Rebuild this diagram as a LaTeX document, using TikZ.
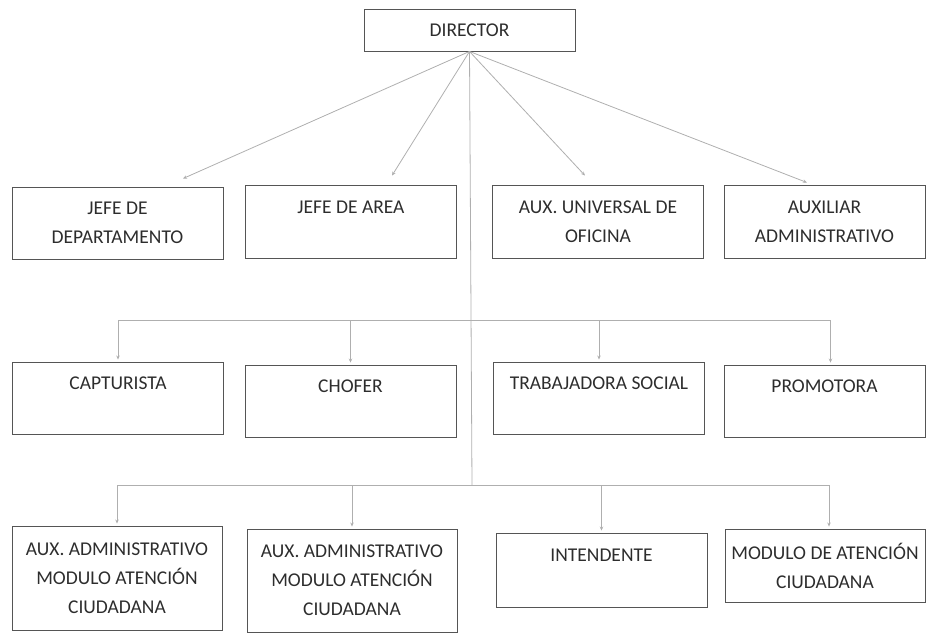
\documentclass[tikz,border=0pt]{standalone}
\usepackage{fontspec}
\setmainfont{Carlito}
\usetikzlibrary{arrows.meta}

\definecolor{boxline}{RGB}{85,85,85}
\definecolor{connline}{RGB}{175,175,175}
\definecolor{boxtext}{RGB}{45,45,45}

\tikzset{
    box/.style={draw=boxline, line width=0.9pt, rectangle, align=center,
        text=boxtext, font=\fontsize{19.5}{29}\selectfont, inner sep=2pt,
        minimum width=211pt, minimum height=72pt},
    conn/.style={draw=connline, line width=0.8pt,
        -{Stealth[length=4pt, width=3.5pt]}}
}

\begin{document}
\begin{tikzpicture}[x=1pt, y=-1pt]
    \useasboundingbox (0,0) rectangle (927,633);

    % Top of the chart
    \node[box, minimum height=42pt] (director) at (469.5,30) {DIRECTOR};

    % First row, reached straight from the director
    \node[box] (jefedep) at (117.5,223) {JEFE DE\\DEPARTAMENTO};
    \node[box, minimum height=73pt] (jefearea) at (351,221.5) {JEFE DE AREA\\\mbox{}};
    \node[box, minimum height=73pt] (auxuni) at (598,221.5) {AUX. UNIVERSAL DE\\OFICINA};
    \node[box, minimum height=73pt, minimum width=201pt] (auxadm) at (824.5,221.5) {AUXILIAR\\ADMINISTRATIVO};

    % Second row
    \node[box] (captur) at (118,398) {CAPTURISTA\\\mbox{}};
    \node[box] (chofer) at (350.5,401) {CHOFER\\\mbox{}};
    \node[box] (trabaj) at (599,398) {TRABAJADORA SOCIAL\\\mbox{}};
    \node[box, minimum width=201pt] (promot) at (824.5,401) {PROMOTORA\\\mbox{}};

    % Third row
    \node[box, minimum width=210pt, minimum height=104pt] (auxmoda) at (117,578) {AUX. ADMINISTRATIVO\\MODULO ATENCIÓN\\CIUDADANA};
    \node[box, minimum width=210pt, minimum height=103pt] (auxmodb) at (352,580.5) {AUX. ADMINISTRATIVO\\MODULO ATENCIÓN\\CIUDADANA};
    \node[box, minimum height=74pt] (intend) at (601.5,570) {INTENDENTE\\\mbox{}};
    \node[box, minimum width=200pt, minimum height=73pt] (modulo) at (825,565.5) {MODULO DE ATENCIÓN\\CIUDADANA};

    % Bus lines of the lower rows
    \coordinate (bustwo) at (471,320);
    \coordinate (busthree) at (472,485);

    % Director to first row
    \draw[conn] (director.south) -- ([xshift=65.5pt, yshift=8pt]jefedep.north);
    \draw[conn] (director.south) -- ([xshift=41pt, yshift=9pt]jefearea.north);
    \draw[conn] (director.south) -- ([xshift=-13pt, yshift=9pt]auxuni.north);
    \draw[conn] (director.south) -- ([xshift=-17.5pt, yshift=2pt]auxadm.north);

    % Trunk down to the lower rows
    \draw[draw=connline, line width=0.8pt] (director.south) -- (busthree);

    % Second row drops
    \draw[conn, shorten >=2pt] (bustwo) -| (captur.north);
    \draw[conn, shorten >=2pt] (bustwo) -| (chofer.north);
    \draw[conn, shorten >=2pt] (bustwo) -| (trabaj.north);
    \draw[conn, shorten >=2pt] (bustwo) -| ([xshift=6pt]promot.north);

    % Third row drops
    \draw[conn, shorten >=2pt] (busthree) -| (auxmoda.north);
    \draw[conn, shorten >=2pt] (busthree) -| (auxmodb.north);
    \draw[conn, shorten >=2pt] (busthree) -| (intend.north);
    \draw[conn, shorten >=2pt] (busthree) -| ([xshift=4pt]modulo.north);
\end{tikzpicture}
\end{document}
